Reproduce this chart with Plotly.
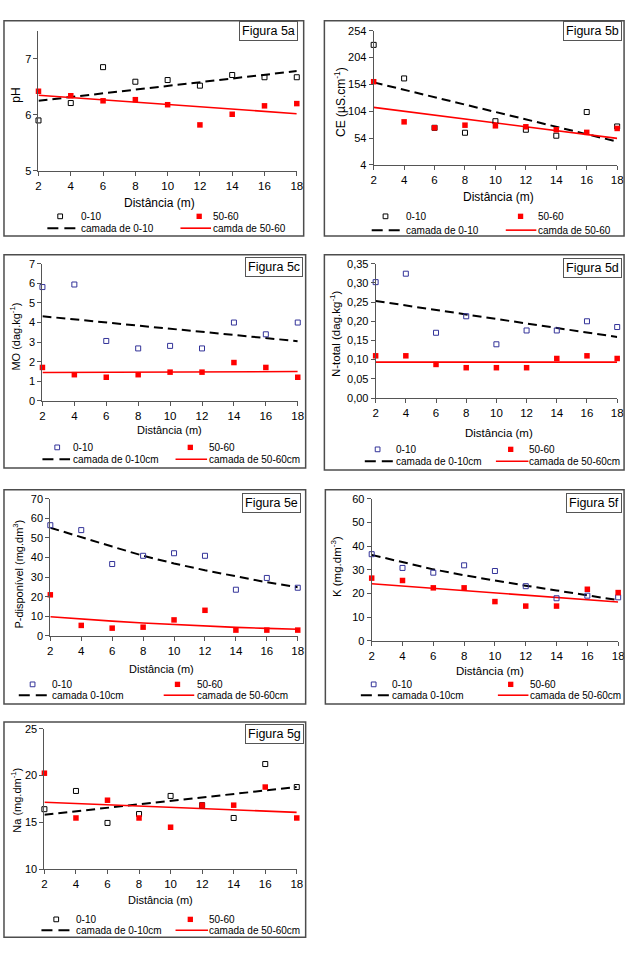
import plotly.graph_objects as go

W, H = 635, 955

# ---------------- data ----------------
dist = [2, 4, 6, 8, 10, 12, 14, 16, 18]
trend_ends = [2, 18]

ph_0_10 = [5.90, 6.21, 6.85, 6.59, 6.62, 6.52, 6.71, 6.67, 6.67]
ph_50_60 = [6.42, 6.34, 6.25, 6.27, 6.18, 5.82, 6.01, 6.16, 6.20]
ph_trend_0_10 = [6.25, 6.78]
ph_trend_50_60 = [6.35, 6.02]

ce_0_10 = [227.6, 165.1, 73.2, 64.0, 85.5, 69.6, 58.5, 102.6, 75.7]
ce_50_60 = [159.0, 84.3, 73.2, 78.1, 76.9, 75.1, 69.6, 64.7, 72.0]
ce_trend_0_10 = [157.8, 47.5]
ce_trend_50_60 = [111.2, 53.6]

mo_0_10 = [5.81, 5.94, 3.06, 2.68, 2.81, 2.68, 4.00, 3.40, 4.00]
mo_50_60 = [1.71, 1.34, 1.21, 1.34, 1.47, 1.47, 1.96, 1.71, 1.21]
mo_trend_0_10 = [4.32, 3.05]
mo_trend_50_60 = [1.45, 1.50]

n_0_10 = [0.302, 0.324, 0.170, 0.213, 0.140, 0.176, 0.176, 0.200, 0.185]
n_50_60 = [0.110, 0.110, 0.0875, 0.079, 0.079, 0.079, 0.103, 0.110, 0.103]
n_trend_0_10 = [0.253, 0.159]
n_trend_50_60 = [0.0935, 0.0935]

p_0_10 = [56.5, 54.0, 36.7, 40.9, 42.2, 40.9, 23.6, 29.6, 24.6]
p_50_60 = [21.0, 5.4, 4.0, 4.5, 8.2, 13.1, 3.0, 3.0, 3.0]
p_trend_0_10 = [55.2, 50.2, 45.6, 40.9, 37.0, 33.5, 30.3, 27.4, 24.9]
p_trend_50_60 = [9.8, 8.6, 7.6, 6.6, 5.8, 5.1, 4.4, 3.9, 3.4]

k_0_10 = [36.6, 30.8, 28.8, 31.9, 29.5, 23.1, 18.0, 19.1, 18.4]
k_50_60 = [26.5, 25.5, 22.4, 22.4, 16.6, 14.7, 14.7, 21.8, 20.4]
k_trend_0_10 = [36.3, 33.2, 30.2, 27.7, 25.4, 23.3, 21.3, 19.2, 17.2]
k_trend_50_60 = [24.1, 16.4]

na_0_10 = [16.4, 18.35, 14.93, 15.88, 17.82, 16.83, 15.46, 21.23, 18.77]
na_50_60 = [20.25, 15.46, 17.36, 15.46, 14.47, 16.83, 16.83, 18.77, 15.46]
na_trend_0_10 = [15.81, 18.77]
na_trend_50_60 = [17.15, 16.06]

x_title = "Distância (m)"

# ---------------- panel specs (layout only) ----------------
BLACK = "#000000"
BLUE = "#333399"
RED = "#ff0000"

panels = [
    dict(name="Figura 5a", ytitle="pH",
         d0=ph_0_10, d1=ph_50_60, t0x=trend_ends, t0=ph_trend_0_10, t1x=trend_ends, t1=ph_trend_50_60,
         yrange=[5, 7.5], tick0=5, dtick=1, fmt="", c0=BLACK,
         leg=["0-10", "50-60", "camada de 0-10", "camda de 50-60"],
         plot=(36, 298, 25, 167), frame=(1, 15, 305, 233), lab=(299, 15),
         rows=(213, 225), sq0=58, tx0=78, sq1=199, tx1=212, dash=(45, 74), red=(180, 211),
         xt=(159, 200), yt=(13, 90), fs=12),
    dict(name="Figura 5b", ytitle="CE (µS.cm<sup>-1</sup>)",
         d0=ce_0_10, d1=ce_50_60, t0x=trend_ends, t0=ce_trend_0_10, t1x=trend_ends, t1=ce_trend_50_60,
         yrange=[4, 254], tick0=4, dtick=50, fmt="", c0=BLACK,
         leg=["0-10", "50-60", "camada de 0-10", "camda de 50-60"],
         plot=(376, 623, 25, 161), frame=(326, 15, 630, 233), lab=(628, 15),
         rows=(213, 227), sq0=388, tx0=408, sq1=525, tx1=542, dash=(374, 403), red=(510, 541),
         xt=(503, 193), yt=(342, 97), fs=12),
    dict(name="Figura 5c", ytitle="MO (dag.kg<sup>-1</sup>)",
         d0=mo_0_10, d1=mo_50_60, t0x=trend_ends, t0=mo_trend_0_10, t1x=trend_ends, t1=mo_trend_50_60,
         yrange=[0, 7], tick0=0, dtick=1, fmt="", c0=BLUE,
         leg=["0-10", "50-60", "camada de 0-10cm", "camada de 50-60cm"],
         plot=(40, 299, 261, 400), frame=(1, 252, 307, 468), lab=(304, 254),
         rows=(447, 459), sq0=55, tx0=70, sq1=190, tx1=208, dash=(40, 68), red=(175, 207),
         xt=(169, 429), yt=(12, 335), fs=11),
    dict(name="Figura 5d", ytitle="N-total (dag.kg<sup>-1</sup>)",
         d0=n_0_10, d1=n_50_60, t0x=trend_ends, t0=n_trend_0_10, t1x=trend_ends, t1=n_trend_50_60,
         yrange=[0, 0.35], tick0=0, dtick=0.05, fmt=".2f", c0=BLUE,
         leg=["0-10", "50-60", "camada de 0-10cm", "camada de 50-60cm"],
         plot=(378, 623, 261, 397), frame=(326, 252, 630, 470), lab=(628, 255),
         rows=(449, 461), sq0=380, tx0=398, sq1=515, tx1=533, dash=(367, 397), red=(500, 533),
         xt=(503, 432), yt=(337, 332), fs=11.5),
    dict(name="Figura 5e", ytitle="P-disponível (mg.dm<sup>3</sup>)",
         d0=p_0_10, d1=p_50_60, t0x=dist, t0=p_trend_0_10, t1x=dist, t1=p_trend_50_60,
         yrange=[0, 70], tick0=0, dtick=10, fmt="", c0=BLUE,
         leg=["0-10", "50-60", "camada 0-10cm", "camada de 50-60cm"],
         plot=(48, 299, 499, 638), frame=(1, 490, 307, 707), lab=(302, 493),
         rows=(687, 698), sq0=30, tx0=49, sq1=177, tx1=196, dash=(16, 45), red=(163, 194),
         xt=(161, 671), yt=(15, 575), fs=11),
    dict(name="Figura 5f", ytitle="K (mg.dm<sup>-3</sup>)",
         d0=k_0_10, d1=k_50_60, t0x=dist, t0=k_trend_0_10, t1x=trend_ends, t1=k_trend_50_60,
         yrange=[0, 60], tick0=0, dtick=10, fmt="", c0=BLUE,
         leg=["0-10", "50-60", "camada 0-10cm", "camada de 50-60cm"],
         plot=(374, 624, 499, 643), frame=(327, 490, 630, 707), lab=(628, 493),
         rows=(687, 698), sq0=376, tx0=394, sq1=515, tx1=534, dash=(363, 392), red=(502, 533),
         xt=(494, 673), yt=(338, 568), fs=11.5),
    dict(name="Figura 5g", ytitle="Na (mg.dm<sup>-1</sup>)",
         d0=na_0_10, d1=na_50_60, t0x=trend_ends, t0=na_trend_0_10, t1x=trend_ends, t1=na_trend_50_60,
         yrange=[10, 25], tick0=10, dtick=5, fmt="", c0=BLACK,
         leg=["0-10", "50-60", "camada de 0-10cm", "camada de 50-60cm"],
         plot=(42, 298, 732, 874), frame=(1, 725, 307, 943), lab=(305, 727),
         rows=(925, 936), sq0=54, tx0=73, sq1=190, tx1=208, dash=(39, 70), red=(175, 208),
         xt=(160, 905), yt=(13, 804), fs=11),
]

FONT = "Liberation Sans, Arial, sans-serif"
AXIS_COL = "#555555"


def px(x):
    return x / W


def py(y):
    return 1 - y / H


fig = go.Figure()
layout = dict(width=W, height=H, margin=dict(l=0, r=0, t=0, b=0),
              paper_bgcolor="white", plot_bgcolor="white", showlegend=False,
              separators=",.", font=dict(family=FONT, color="black", size=11))
shapes = []
annotations = []

for i, p in enumerate(panels):
    n = i + 1
    xa = "x" if n == 1 else f"x{n}"
    ya = "y" if n == 1 else f"y{n}"
    x0, x1, y0, y1 = p["plot"]
    layout["xaxis" if n == 1 else f"xaxis{n}"] = dict(
        domain=[px(x0), px(x1)], range=[2, 18], anchor=ya, tick0=2, dtick=2,
        showline=True, linecolor=AXIS_COL, linewidth=1, ticks="outside", ticklen=4,
        tickcolor=AXIS_COL, showgrid=False, zeroline=False, fixedrange=True,
        tickfont=dict(size=11.5, family=FONT, color="black"))
    layout["yaxis" if n == 1 else f"yaxis{n}"] = dict(
        domain=[py(y1), py(y0)], range=p["yrange"], anchor=xa, tick0=p["tick0"], dtick=p["dtick"],
        tickformat=p["fmt"], showline=True, linecolor=AXIS_COL, linewidth=1, ticks="outside",
        ticklen=4, tickcolor=AXIS_COL, showgrid=False, zeroline=False, fixedrange=True,
        tickfont=dict(size=11, family=FONT, color="black"))

    # trend lines
    fig.add_trace(go.Scatter(x=p["t0x"], y=p["t0"], mode="lines", xaxis=xa, yaxis=ya,
                             line=dict(color="black", width=2, dash="9px,5px"), cliponaxis=False))
    fig.add_trace(go.Scatter(x=p["t1x"], y=p["t1"], mode="lines", xaxis=xa, yaxis=ya,
                             line=dict(color=RED, width=1.6), cliponaxis=False))
    # points
    fig.add_trace(go.Scatter(x=dist, y=p["d0"], mode="markers", xaxis=xa, yaxis=ya, cliponaxis=False,
                             marker=dict(symbol="square-open", size=5, color=p["c0"],
                                         line=dict(width=1, color=p["c0"]))))
    fig.add_trace(go.Scatter(x=dist, y=p["d1"], mode="markers", xaxis=xa, yaxis=ya, cliponaxis=False,
                             marker=dict(symbol="square", size=5.5, color=RED)))

    # frame
    fx0, fy0, fx1, fy1 = p["frame"]
    shapes.append(dict(type="rect", xref="paper", yref="paper", x0=px(fx0), x1=px(fx1),
                       y0=py(fy1), y1=py(fy0), line=dict(color="#4d4d4d", width=1.5)))

    # figure label box
    lx, ly = p["lab"]
    annotations.append(dict(xref="paper", yref="paper", x=px(lx), y=py(ly), xanchor="right",
                            yanchor="top", text=p["name"], showarrow=False,
                            font=dict(size=12.5, family=FONT, color="black"),
                            bordercolor="#555555", borderwidth=1, borderpad=2, bgcolor="white"))

    # axis titles
    xtx, xty = p["xt"]
    annotations.append(dict(xref="paper", yref="paper", x=px(xtx), y=py(xty), xanchor="center",
                            yanchor="middle", text=x_title, showarrow=False,
                            font=dict(size=p["fs"], family=FONT, color="black")))
    ytx, yty = p["yt"]
    annotations.append(dict(xref="paper", yref="paper", x=px(ytx), y=py(yty), xanchor="center",
                            yanchor="middle", text=p["ytitle"], showarrow=False, textangle=-90,
                            font=dict(size=p["fs"], family=FONT, color="black")))

    # manual legend
    r0, r1 = p["rows"]
    s = 2.4
    shapes.append(dict(type="rect", xref="paper", yref="paper", x0=px(p["sq0"] - s), x1=px(p["sq0"] + s),
                       y0=py(r0 + s), y1=py(r0 - s), line=dict(color=p["c0"], width=1)))
    shapes.append(dict(type="rect", xref="paper", yref="paper", x0=px(p["sq1"] - s - 0.3), x1=px(p["sq1"] + s + 0.3),
                       y0=py(r0 + s + 0.3), y1=py(r0 - s - 0.3), line=dict(color=RED, width=0), fillcolor=RED))
    shapes.append(dict(type="line", xref="paper", yref="paper", x0=px(p["dash"][0]), x1=px(p["dash"][1]),
                       y0=py(r1), y1=py(r1), line=dict(color="black", width=2, dash="11px,6px")))
    shapes.append(dict(type="line", xref="paper", yref="paper", x0=px(p["red"][0]), x1=px(p["red"][1]),
                       y0=py(r1), y1=py(r1), line=dict(color=RED, width=1.6)))
    for txt, tx, ty in [(p["leg"][0], p["tx0"], r0), (p["leg"][1], p["tx1"], r0),
                        (p["leg"][2], p["tx0"], r1), (p["leg"][3], p["tx1"], r1)]:
        annotations.append(dict(xref="paper", yref="paper", x=px(tx), y=py(ty), xanchor="left",
                                yanchor="middle", text=txt, showarrow=False, borderpad=0,
                                font=dict(size=10, family=FONT, color="black")))

layout["shapes"] = shapes
layout["annotations"] = annotations
fig.update_layout(**layout)
fig.write_html("out.html")
